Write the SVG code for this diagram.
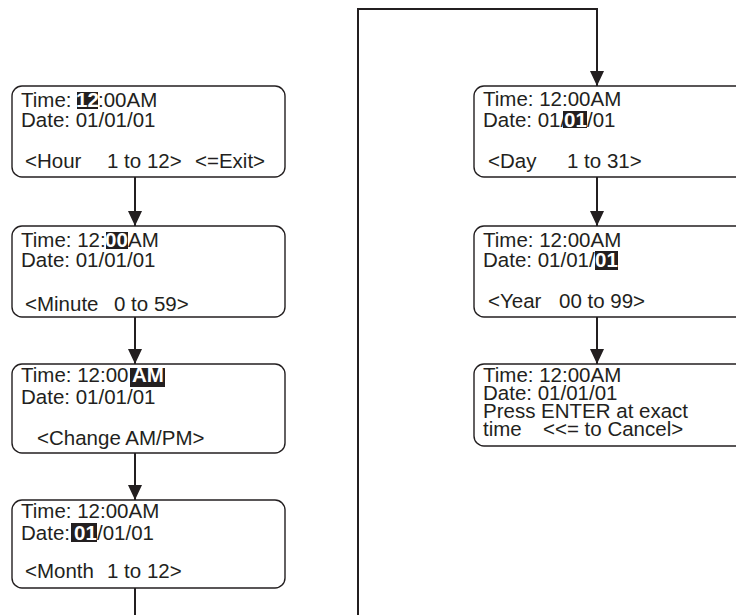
<svg xmlns="http://www.w3.org/2000/svg" width="736" height="615" viewBox="0 0 736 615">
<defs>
<marker id="ah" markerWidth="15" markerHeight="14" refX="15" refY="7" orient="auto" markerUnits="userSpaceOnUse">
<path d="M0,0 L15,7 L0,14 Z" fill="#231f20"/>
</marker>
<style>
.box{fill:#fff;stroke:#231f20;stroke-width:1.4}
.t{font-family:"Liberation Sans",Arial,Helvetica,sans-serif;font-size:20.5px;fill:#231f20}
.hl{fill:#231f20}
.ht{font-family:"Liberation Sans",Arial,Helvetica,sans-serif;font-size:20.5px;font-weight:bold;fill:#fff}
.c{fill:none;stroke:#231f20;stroke-width:2}
</style>
</defs>
<rect width="736" height="615" fill="#fff"/>
<g id="connectors">
<line class="c" x1="135" y1="177" x2="135" y2="226" marker-end="url(#ah)"/>
<line class="c" x1="135" y1="317" x2="135" y2="364" marker-end="url(#ah)"/>
<line class="c" x1="135" y1="453" x2="135" y2="500" marker-end="url(#ah)"/>
<line class="c" x1="135" y1="588" x2="135" y2="616"/>
<polyline class="c" points="358,616 358,9 597,9 597,86" marker-end="url(#ah)"/>
<line class="c" x1="597" y1="177" x2="597" y2="226" marker-end="url(#ah)"/>
<line class="c" x1="597" y1="317" x2="597" y2="364" marker-end="url(#ah)"/>
</g>
<g id="hour">
<rect class="box" x="12" y="86" width="273" height="91" rx="10"/>
<text class="t" x="21" y="107">Time: </text>
<rect class="hl" x="77" y="92" width="21" height="17"/>
<text class="ht" x="76" y="107">12</text>
<text class="t" x="98" y="107">:00AM</text>
<text class="t" x="21" y="127">Date: 01/01/01</text>
<text class="t" x="25" y="168">&lt;Hour</text>
<text class="t" x="107" y="168">1 to 12&gt;</text>
<text class="t" x="195" y="168">&lt;=Exit&gt;</text>
</g>
<g id="minute">
<rect class="box" x="12" y="226" width="273" height="91" rx="10"/>
<text class="t" x="21" y="247">Time: 12:</text>
<rect class="hl" x="106" y="232" width="22" height="17"/>
<text class="ht" x="105" y="247">00</text>
<text class="t" x="128" y="247">AM</text>
<text class="t" x="21" y="267">Date: 01/01/01</text>
<text class="t" x="25" y="311">&lt;Minute</text>
<text class="t" x="114" y="311">0 to 59&gt;</text>
</g>
<g id="ampm">
<rect class="box" x="12" y="364" width="273" height="89" rx="10"/>
<text class="t" x="21" y="382">Time: 12:00</text>
<rect class="hl" x="130" y="368" width="35" height="19"/>
<text class="ht" x="132" y="382">AM</text>
<text class="t" x="21" y="404">Date: 01/01/01</text>
<text class="t" x="37" y="445">&lt;Change AM/PM&gt;</text>
</g>
<g id="month">
<rect class="box" x="12" y="500" width="273" height="88" rx="10"/>
<text class="t" x="21" y="518">Time: 12:00AM</text>
<text class="t" x="21" y="540">Date:</text>
<rect class="hl" x="71" y="523" width="26" height="19"/>
<text class="ht" x="74" y="540">01</text>
<text class="t" x="97" y="540">/01/01</text>
<text class="t" x="25" y="578">&lt;Month</text>
<text class="t" x="107" y="578">1 to 12&gt;</text>
</g>
<g id="day">
<rect class="box" x="474" y="86" width="290" height="91" rx="10"/>
<text class="t" x="483" y="106">Time: 12:00AM</text>
<text class="t" x="483" y="127">Date: 01/</text>
<rect class="hl" x="563" y="111" width="24" height="17"/>
<text class="ht" x="564" y="127">01</text>
<text class="t" x="587" y="127">/01</text>
<text class="t" x="488" y="168">&lt;Day</text>
<text class="t" x="567" y="168">1 to 31&gt;</text>
</g>
<g id="year">
<rect class="box" x="474" y="226" width="290" height="91" rx="10"/>
<text class="t" x="483" y="247">Time: 12:00AM</text>
<text class="t" x="483" y="267">Date: 01/01/</text>
<rect class="hl" x="595" y="251" width="23" height="19"/>
<text class="ht" x="595" y="267">01</text>
<text class="t" x="488" y="308">&lt;Year</text>
<text class="t" x="559" y="308">00 to 99&gt;</text>
</g>
<g id="confirm">
<rect class="box" x="474" y="364" width="290" height="82" rx="10"/>
<text class="t" x="483" y="382">Time: 12:00AM</text>
<text class="t" x="483" y="400">Date: 01/01/01</text>
<text class="t" x="483" y="418">Press ENTER at exact</text>
<text class="t" x="483" y="436">time</text>
<text class="t" x="543" y="436">&lt;&lt;= to Cancel&gt;</text>
</g>
</svg>
